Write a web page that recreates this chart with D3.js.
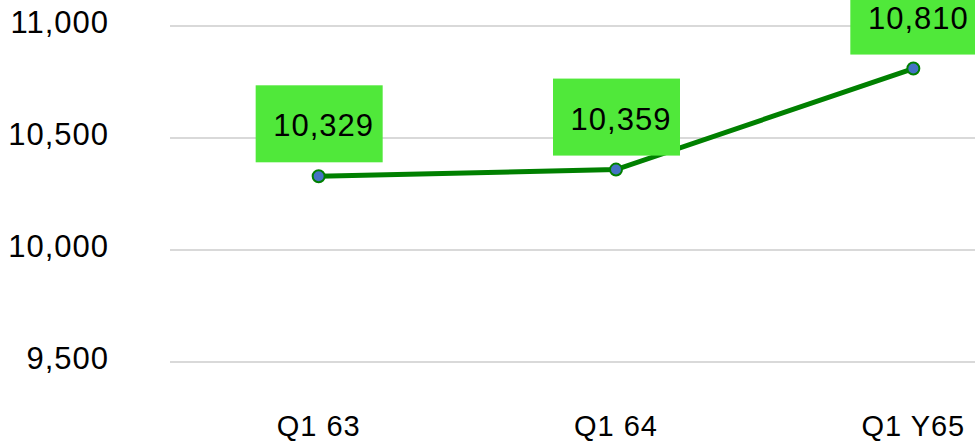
<!DOCTYPE html>
<html>
<head>
<meta charset="utf-8">
<script src="https://cdn.jsdelivr.net/npm/d3@7"></script>
<style>
  body { margin: 0; background: #fff; overflow: hidden; }
  text { font-family: "Liberation Sans", Arial, sans-serif; fill: #000; letter-spacing: 1px; }
</style>
</head>
<body>
<div class="chart"></div>
<script>
const quarters = ["Q1 63", "Q1 64", "Q1 Y65"]
const values = [10329, 10359, 10810]
const yTicks = [9500, 10000, 10500, 11000]

const width = 975
const height = 444

const svg = d3.select(".chart").append("svg")
  .attr("width", width).attr("height", height)

const x = d3.scalePoint().domain(quarters).range([170, 1062]).padding(0.5)
const y = d3.scaleLinear().domain([9500, 11000]).range([362, 26])

const fmt = d3.format(",")

// gridlines
svg.append("g").selectAll("line").data(yTicks).enter().append("line")
  .attr("x1", 170).attr("x2", width)
  .attr("y1", d => y(d)).attr("y2", d => y(d))
  .attr("stroke", "#d9d9d9").attr("stroke-width", 2)

// y labels
svg.append("g").selectAll("text").data(yTicks).enter().append("text")
  .attr("x", 109).attr("y", d => y(d) + 7)
  .attr("text-anchor", "end")
  .style("font-size", "31px")
  .text(d => fmt(d))

// x labels
svg.append("g").selectAll("text").data(quarters).enter().append("text")
  .attr("x", d => x(d)).attr("y", 436)
  .attr("text-anchor", "middle")
  .style("font-size", "29px")
  .text(d => d)

const pts = quarters.map((q, i) => ({q: q, v: values[i]}))

svg.append("path").datum(pts)
  .attr("fill", "none").attr("stroke", "#008000").attr("stroke-width", 5)
  .attr("d", d3.line().x(d => x(d.q)).y(d => y(d.v)))

svg.append("g").selectAll("circle").data(pts).enter().append("circle")
  .attr("cx", d => x(d.q)).attr("cy", d => y(d.v)).attr("r", 6)
  .attr("fill", "#4472c4").attr("stroke", "#008000").attr("stroke-width", 2)

// data labels
const lab = svg.append("g").selectAll("g").data(pts).enter().append("g")
  .attr("transform", d => `translate(${x(d.q)},${y(d.v) - 14})`)

lab.append("rect")
  .attr("x", -63).attr("y", -77).attr("width", 127).attr("height", 77)
  .attr("fill", "#50e83a")

lab.append("text")
  .attr("x", 5).attr("y", -26)
  .attr("text-anchor", "middle")
  .style("font-size", "31px")
  .text(d => fmt(d.v))
</script>
</body>
</html>
